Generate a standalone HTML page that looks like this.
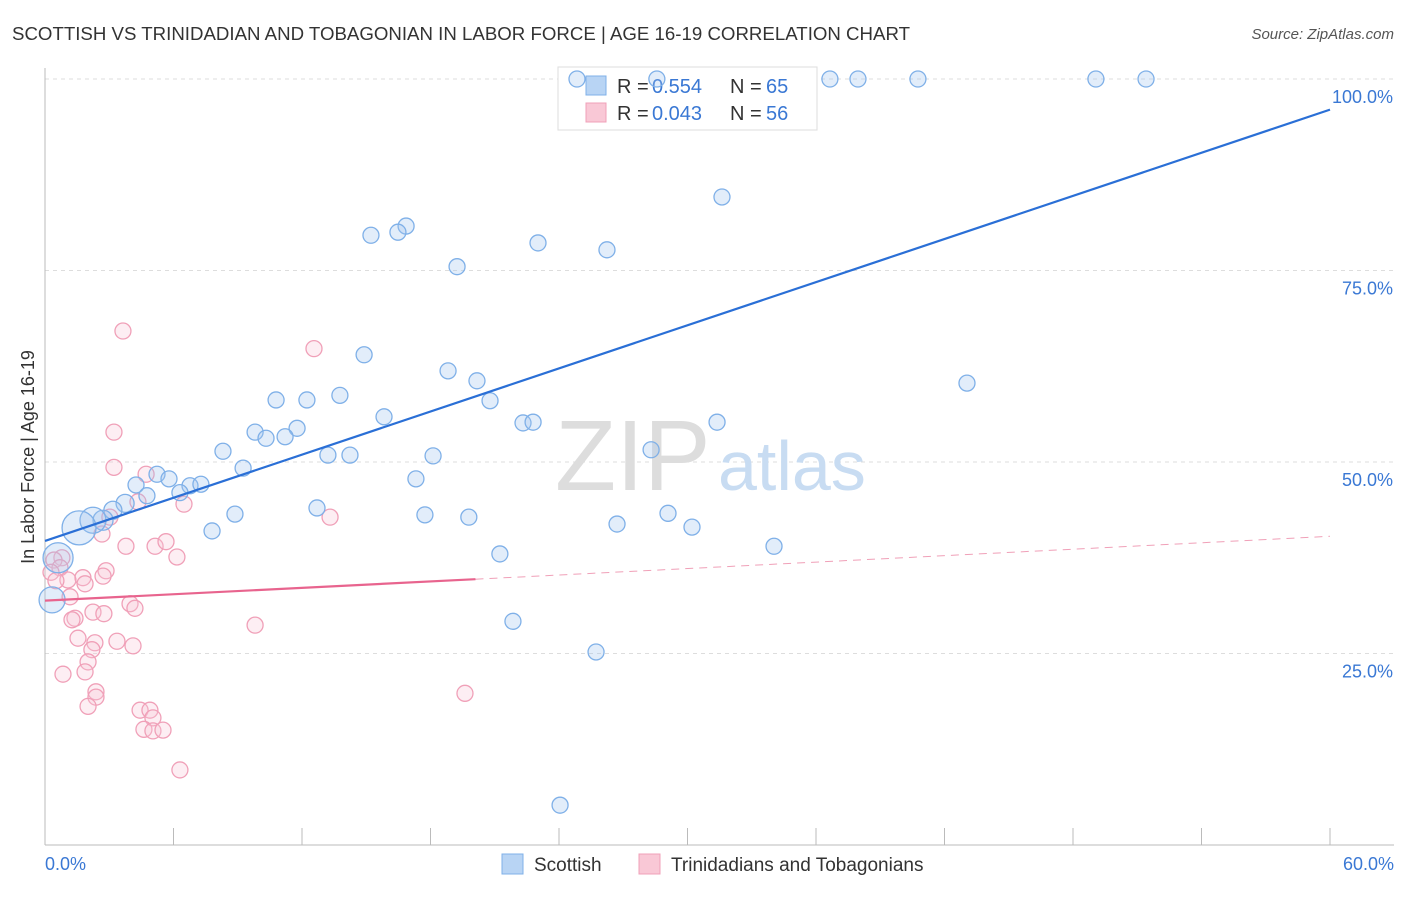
<!DOCTYPE html>
<html><head><meta charset="utf-8"><style>
body{margin:0;background:#fff;font-family:"Liberation Sans",sans-serif;}
svg text{font-family:"Liberation Sans",sans-serif;}
</style></head><body>
<svg width="1406" height="892" viewBox="0 0 1406 892">
<text x="12" y="40" font-size="18" fill="#333" textLength="898" lengthAdjust="spacingAndGlyphs">SCOTTISH VS TRINIDADIAN AND TOBAGONIAN IN LABOR FORCE | AGE 16-19 CORRELATION CHART</text>
<text x="1394" y="39" font-size="15" fill="#555" text-anchor="end" font-style="italic">Source: ZipAtlas.com</text>
<g id="grid"></g>
<text x="555" y="490" font-size="100" fill="#ddd" font-family="Liberation Serif">ZIP</text>
<text x="718" y="490" font-size="70" fill="#c8dcf2">atlas</text>
<text transform="translate(34,457) rotate(-90)" font-size="18" fill="#333" text-anchor="middle">In Labor Force | Age 16-19</text>
<g>
<rect x="558" y="67" width="259" height="63" fill="#fff" stroke="#ddd"/>
<rect x="586" y="76" width="20" height="19" fill="#b8d4f4" stroke="#7fb0e8"/>
<text x="617" y="93" font-size="20" fill="#333">R =</text>
<text x="652" y="93" font-size="20" fill="#3a78d4">0.554</text>
<text x="730" y="93" font-size="20" fill="#333">N =</text>
<text x="766" y="93" font-size="20" fill="#3a78d4">65</text>
<rect x="586" y="103" width="20" height="19" fill="#f9c8d6" stroke="#f0a0b8"/>
<text x="617" y="120" font-size="20" fill="#333">R =</text>
<text x="652" y="120" font-size="20" fill="#3a78d4">0.043</text>
<text x="730" y="120" font-size="20" fill="#333">N =</text>
<text x="766" y="120" font-size="20" fill="#3a78d4">56</text>
</g>
<g id="marks"></g>
<g>
<rect x="502" y="854" width="21" height="20" fill="#b8d4f4" stroke="#7fb0e8"/>
<text x="534" y="871" font-size="19" fill="#333">Scottish</text>
<rect x="639" y="854" width="21" height="20" fill="#f9c8d6" stroke="#f0a0b8"/>
<text x="671" y="871" font-size="19" fill="#333">Trinidadians and Tobagonians</text>
</g>
</svg>
<script>
const blueX=[24.84,28.57,36.65,37.96,40.76,49.07,51.41,31.61,16.86,16.48,15.22,23.02,26.24,19.24,14.9,18.82,20.17,43.05,13.77,10.79,12.23,20.78,15.83,22.32,22.79,31.38,11.77,9.81,10.32,11.21,8.31,28.3,13.21,14.24,18.12,9.25,5.23,5.79,17.32,4.25,6.77,7.28,6.30,4.76,3.74,12.70,3.17,8.87,17.74,19.79,29.09,2.71,2.24,1.59,26.71,30.21,7.80,34.04,21.24,0.61,0.33,21.85,25.73,24.05];
const blueY=[100,100,100,100,100,100,100,84.6,80.8,80.0,79.6,78.6,77.7,75.5,64.0,61.9,60.6,60.3,58.7,58.1,58.1,58.0,55.9,55.1,55.2,55.2,54.4,53.9,53.1,53.3,51.4,51.6,50.9,50.9,50.8,49.2,48.4,47.8,47.8,47.0,46.9,47.1,46.0,45.6,44.6,44.0,43.7,43.2,43.1,42.8,43.3,42.4,42.4,41.4,41.9,41.5,41.0,39.0,38.0,37.5,32.0,29.2,25.2,5.2];
const blueR=[8,8,8,8,8,8,8,8,8,8,8,8,8,8,8,8,8,8,8,8,8,8,8,8,8,8,8,8,8,8,8,8,8,8,8,8,8,8,8,8,8,8,8,8,9,8,9,8,8,8,8,10,13,17,8,8,8,8,8,15,13,8,8,8];
const pinkX=[3.64,12.56,3.22,3.22,4.72,4.34,6.49,13.31,3.03,2.66,3.78,5.14,5.65,6.16,0.79,0.42,0.70,0.28,2.85,2.71,1.77,1.07,0.51,1.87,1.17,3.97,4.20,2.24,2.75,1.40,1.26,9.81,1.54,3.36,4.11,2.33,2.19,2.01,1.87,0.84,2.38,19.61,2.38,2.01,4.44,4.90,5.04,4.62,5.04,5.51,6.30];
const pinkY=[67.1,64.8,53.9,49.3,48.4,44.8,44.5,42.8,42.8,40.6,39.0,39.0,39.6,37.6,37.5,37.2,36.2,35.6,35.8,35.1,34.9,34.6,34.5,34.1,32.4,31.5,30.9,30.4,30.2,29.6,29.4,28.7,27.0,26.6,26.0,26.4,25.5,23.9,22.6,22.3,20.0,19.8,19.3,18.1,17.6,17.6,16.6,15.1,14.9,15.0,9.8];
const blueLine=[[0,39.7],[60,96.0]];
const pinkSolid=[[0,31.9],[20.1,34.7]];
const pinkDash=[[20.1,34.7],[60,40.3]];
const xTicks=[0,6,12,18,24,30,36,42,48,54,60];
const yTicks=[25,50,75,100];
const yTickLabels=["25.0%","50.0%","75.0%","100.0%"];
const NS="http://www.w3.org/2000/svg";
const X=v=>45+v/60*1285, Y=v=>845-v/100*766;
function mk(t,a,p){const e=document.createElementNS(NS,t);for(const k in a)e.setAttribute(k,a[k]);p.appendChild(e);return e;}
const grid=document.getElementById('grid'), marks=document.getElementById('marks');
yTicks.forEach((t,i)=>{
 const l=mk('line',{x1:45,x2:1394,y1:Y(t),y2:Y(t),stroke:'#ddd','stroke-dasharray':'4,4'},grid);
 
 
 const tx=mk('text',{x:1393,y:Y(t)+24,'font-size':18,fill:'#3a78d4','text-anchor':'end'},grid);
 tx.textContent=yTickLabels[i];
 
 
});
const ax=mk('line',{x1:45,x2:1394,y1:845,y2:845,stroke:'#bbb'},grid);


const ay=mk('line',{x1:45,x2:45,y1:68,y2:845,stroke:'#bbb'},grid);


xTicks.forEach(t=>{const l=mk('line',{x1:X(t),x2:X(t),y1:828,y2:845,stroke:'#bbb'},grid);
 
 });
[["0.0%",45,'start'],["60.0%",1394,'end']].forEach(a=>{const t=mk('text',{x:a[1],y:870,'font-size':18,fill:'#3a78d4','text-anchor':a[2]},grid);t.textContent=a[0];
 
 });
pinkX.forEach((x,i)=>{const c=mk('circle',{cx:X(x),cy:Y(pinkY[i]),r:8,fill:'rgba(249,200,214,0.3)',stroke:'#f0a0b8','stroke-width':1.3},marks);
 
 });
blueX.forEach((x,i)=>{const c=mk('circle',{cx:X(x),cy:Y(blueY[i]),r:blueR[i],fill:'rgba(160,196,240,0.3)',stroke:'#7fb0e8','stroke-width':1.3},marks);
 
 });
const bl=mk('line',{x1:X(blueLine[0][0]),y1:Y(blueLine[0][1]),x2:X(blueLine[1][0]),y2:Y(blueLine[1][1]),stroke:'#2a6fd6','stroke-width':2.2},marks);


const ps=mk('line',{x1:X(pinkSolid[0][0]),y1:Y(pinkSolid[0][1]),x2:X(pinkSolid[1][0]),y2:Y(pinkSolid[1][1]),stroke:'#e8648e','stroke-width':2.2},marks);


const pd=mk('line',{x1:X(pinkDash[0][0]),y1:Y(pinkDash[0][1]),x2:X(pinkDash[1][0]),y2:Y(pinkDash[1][1]),stroke:'#f0a0b8','stroke-width':1,'stroke-dasharray':'8,6'},marks);


</script>
</body></html>
